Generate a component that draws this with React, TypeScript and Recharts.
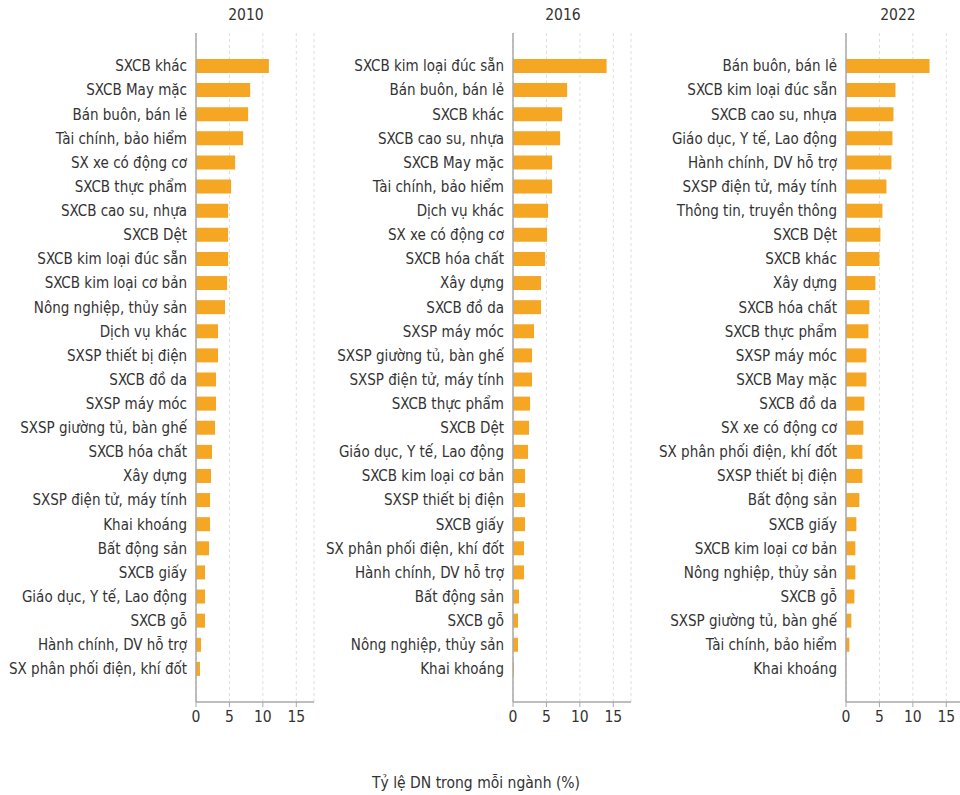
import React from 'react';
import { BarChart, Bar, XAxis, YAxis, CartesianGrid } from 'recharts';

const cats2010 = [
  'SXCB khác', 'SXCB May mặc', 'Bán buôn, bán lẻ', 'Tài chính, bảo hiểm', 'SX xe có động cơ',
  'SXCB thực phẩm', 'SXCB cao su, nhựa', 'SXCB Dệt', 'SXCB kim loại đúc sẵn', 'SXCB kim loại cơ bản',
  'Nông nghiệp, thủy sản', 'Dịch vụ khác', 'SXSP thiết bị điện', 'SXCB đồ da', 'SXSP máy móc',
  'SXSP giường tủ, bàn ghế', 'SXCB hóa chất', 'Xây dựng', 'SXSP điện tử, máy tính', 'Khai khoáng',
  'Bất động sản', 'SXCB giấy', 'Giáo dục, Y tế, Lao động', 'SXCB gỗ', 'Hành chính, DV hỗ trợ',
  'SX phân phối điện, khí đốt',
];
const vals2010 = [
  10.9, 8.1, 7.8, 7.05, 5.85, 5.25, 4.8, 4.8, 4.8, 4.65, 4.35, 3.3, 3.3, 3.0, 3.0,
  2.85, 2.4, 2.25, 2.1, 2.1, 1.95, 1.35, 1.35, 1.35, 0.75, 0.6,
];

const cats2016 = [
  'SXCB kim loại đúc sẵn', 'Bán buôn, bán lẻ', 'SXCB khác', 'SXCB cao su, nhựa', 'SXCB May mặc',
  'Tài chính, bảo hiểm', 'Dịch vụ khác', 'SX xe có động cơ', 'SXCB hóa chất', 'Xây dựng',
  'SXCB đồ da', 'SXSP máy móc', 'SXSP giường tủ, bàn ghế', 'SXSP điện tử, máy tính', 'SXCB thực phẩm',
  'SXCB Dệt', 'Giáo dục, Y tế, Lao động', 'SXCB kim loại cơ bản', 'SXSP thiết bị điện', 'SXCB giấy',
  'SX phân phối điện, khí đốt', 'Hành chính, DV hỗ trợ', 'Bất động sản', 'SXCB gỗ', 'Nông nghiệp, thủy sản',
  'Khai khoáng',
];
const vals2016 = [
  14.0, 8.1, 7.35, 7.05, 5.85, 5.85, 5.25, 5.1, 4.8, 4.2, 4.2, 3.15, 2.85, 2.85, 2.55,
  2.4, 2.25, 1.8, 1.8, 1.8, 1.65, 1.65, 0.9, 0.75, 0.75, 0.15,
];

const cats2022 = [
  'Bán buôn, bán lẻ', 'SXCB kim loại đúc sẵn', 'SXCB cao su, nhựa', 'Giáo dục, Y tế, Lao động', 'Hành chính, DV hỗ trợ',
  'SXSP điện tử, máy tính', 'Thông tin, truyền thông', 'SXCB Dệt', 'SXCB khác', 'Xây dựng',
  'SXCB hóa chất', 'SXCB thực phẩm', 'SXSP máy móc', 'SXCB May mặc', 'SXCB đồ da',
  'SX xe có động cơ', 'SX phân phối điện, khí đốt', 'SXSP thiết bị điện', 'Bất động sản', 'SXCB giấy',
  'SXCB kim loại cơ bản', 'Nông nghiệp, thủy sản', 'SXCB gỗ', 'SXSP giường tủ, bàn ghế', 'Tài chính, bảo hiểm',
  'Khai khoáng',
];
const vals2022 = [
  12.5, 7.4, 7.1, 6.95, 6.8, 6.05, 5.45, 5.15, 5.0, 4.4, 3.5, 3.35, 3.05, 3.05, 2.75,
  2.6, 2.45, 2.45, 2.0, 1.55, 1.4, 1.4, 1.25, 0.8, 0.5, 0,
];

const xTicks = [0, 5, 10, 15];

const FONT = "'DejaVu Sans Condensed', 'Liberation Sans Narrow', Roboto, sans-serif";
const TEXT = '#333333';
const BAR = '#F5A623';
const AXIS = '#a8a8a8';

interface PanelProps {
  cats: string[];
  vals: number[];
  left: number;
  labelWidth: number;
}

function Panel({ cats, vals, left, labelWidth }: PanelProps) {
  const data = cats.map((name, i) => ({ name, value: vals[i] }));
  return (
    <div style={{ position: 'absolute', left, top: 0 }}>
      <BarChart
        width={labelWidth + 118 + 10}
        height={740}
        data={data}
        layout="vertical"
        margin={{ top: 33, right: 10, left: 0, bottom: 8 }}
        style={{ overflow: 'visible' }}
      >
        <CartesianGrid horizontal={false} strokeDasharray="3 3" stroke="#dddddd" />
        <XAxis
          type="number"
          domain={[0, 17.65]}
          ticks={xTicks}
          allowDataOverflow
          height={30}
          axisLine={{ stroke: AXIS, strokeWidth: 1.5 }}
          tickLine={{ stroke: AXIS }}
          tickSize={5}
          tickMargin={4}
          tick={{ fill: TEXT, fontSize: 15.5, fontFamily: FONT }}
        />
        <YAxis
          type="category"
          dataKey="name"
          width={labelWidth}
          interval={0}
          padding={{ top: 21, bottom: 21 }}
          axisLine={{ stroke: AXIS, strokeWidth: 1.5 }}
          tickLine={false}
          tickMargin={3}
          tick={{ fill: TEXT, fontSize: 15, fontFamily: FONT }}
        />
        <Bar dataKey="value" fill={BAR} barSize={14} isAnimationActive={false} />
      </BarChart>
    </div>
  );
}

const titleStyle: React.CSSProperties = {
  position: 'absolute',
  top: 6,
  width: 100,
  textAlign: 'center',
  fontFamily: FONT,
  fontSize: 15.5,
  color: TEXT,
};

export default function App() {
  return (
    <div
      style={{
        position: 'absolute',
        left: 0,
        top: 0,
        width: 960,
        height: 795,
        overflow: 'hidden',
        background: '#fff',
      }}
    >
      <Panel cats={cats2010} vals={vals2010} left={0} labelWidth={196} />
      <Panel cats={cats2016} vals={vals2016} left={320} labelWidth={193} />
      <Panel cats={cats2022} vals={vals2022} left={640} labelWidth={206} />
      <div style={{ ...titleStyle, left: 196 }}>2010</div>
      <div style={{ ...titleStyle, left: 513 }}>2016</div>
      <div style={{ ...titleStyle, left: 848 }}>2022</div>
      <div
        style={{
          position: 'absolute',
          top: 774,
          left: 276,
          width: 400,
          textAlign: 'center',
          fontFamily: FONT,
          fontSize: 15.5,
          color: TEXT,
        }}
      >
        Tỷ lệ DN trong mỗi ngành (%)
      </div>
    </div>
  );
}
